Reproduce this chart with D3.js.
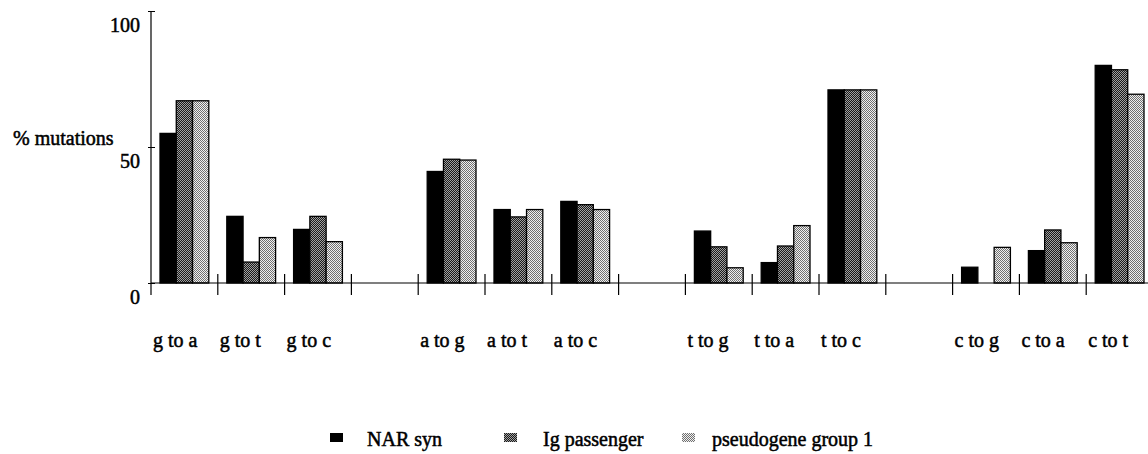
<!DOCTYPE html>
<html>
<head>
<meta charset="utf-8">
<script src="https://cdn.jsdelivr.net/npm/d3@7.9.0/dist/d3.min.js"></script>
<style>
  body { margin: 0; background: #fff; }
  #chart text {
    font-family: 'Liberation Serif', 'Times New Roman', 'DejaVu Serif', serif !important;
    font-size: 20px !important;
    fill: #000;
    stroke: #000;
    stroke-width: 0.5px;
  }
</style>
</head>
<body>
<svg id="chart" width="1148" height="454"></svg>
<script>
// categories ('' = empty gap slot between base groups)
const categories = ['g to a', 'g to t', 'g to c', '', 'a to g', 'a to t', 'a to c', '',
                    't to g', 't to a', 't to c', '', 'c to g', 'c to a', 'c to t'];
const seriesNames = ['NAR syn', 'Ig passenger', 'pseudogene group 1'];
const narSyn      = [55, 24.5, 19.7, null, 41, 27, 30, null, 19.1, 7.5, 71, null, 5.8, 11.9, 80];
const igPassenger = [67, 7.7, 24.5, null, 45.5, 24.3, 28.8, null, 13.3, 13.6, 71, null, 0, 19.5, 78.4];
const pseudogene  = [67, 16.7, 15.2, null, 45.2, 27, 27, null, 5.6, 21.1, 71, null, 13.1, 14.8, 69.4];
const yTicks = [0, 50, 100];

const series = [narSyn, igPassenger, pseudogene];
const fills = ['#000', 'url(#pat-ig)', 'url(#pat-pseudo)'];

const svg = d3.select('#chart');

// fill patterns for the two stippled series
const defs = svg.append('defs');
function checker(id, a, b) {
    let p = defs.append('pattern')
        .attr('id', id)
        .attr('width', 2).attr('height', 2)
        .attr('patternUnits', 'userSpaceOnUse');
    p.append('rect').attr('width', 2).attr('height', 2).attr('fill', a);
    p.append('rect').attr('width', 1).attr('height', 1).attr('fill', b);
    p.append('rect').attr('x', 1).attr('y', 1).attr('width', 1).attr('height', 1).attr('fill', b);
}
checker('pat-ig', '#1a1a1a', '#a0a0a0');
checker('pat-pseudo', '#f0f0f0', '#707070');

const x = d3.scaleBand()
    .domain(d3.range(categories.length))
    .range([151, 1153]);

const xSub = d3.scaleBand()
    .domain(d3.range(series.length))
    .range([9, x.bandwidth() - 9]);

const y = d3.scaleLinear().domain([0, 100]).range([283, 11]);

// bars
series.forEach((values, s) => {
    svg.append('g')
        .selectAll('rect')
        .data(values.map((v, i) => ({ v, i })).filter(d => d.v !== null && d.v > 0))
        .join('rect')
        .attr('x', d => x(d.i) + xSub(s))
        .attr('y', d => y(d.v))
        .attr('width', xSub.bandwidth())
        .attr('height', d => y(0) - y(d.v))
        .attr('fill', fills[s])
        .attr('stroke', '#000')
        .attr('stroke-width', 1.3);
});

// x axis line + boundary ticks
svg.append('line')
    .attr('x1', 151).attr('x2', 1148)
    .attr('y1', y(0)).attr('y2', y(0))
    .attr('stroke', '#000').attr('stroke-width', 1.2);

svg.append('g')
    .selectAll('line')
    .data(d3.range(1, categories.length))
    .join('line')
    .attr('x1', i => x(i)).attr('x2', i => x(i))
    .attr('y1', y(0) - 9).attr('y2', y(0) + 12)
    .attr('stroke', '#000').attr('stroke-width', 1.2);

svg.append('g')
    .selectAll('text')
    .data(categories.map((c, i) => ({ c, i })).filter(d => d.c))
    .join('text')
    .attr('x', d => x(d.i) + 2)
    .attr('y', 347)
    .text(d => d.c);

// y axis
const yAxis = svg.append('g')
    .attr('transform', 'translate(151,0)')
    .call(d3.axisLeft(y).tickValues(yTicks).tickSizeInner(4).tickSizeOuter(0));
yAxis.attr('font-family', null).attr('font-size', null);
yAxis.select('.domain').remove();
yAxis.selectAll('.tick line').attr('x1', -3).attr('x2', 4).attr('stroke', '#000');
yAxis.selectAll('.tick text')
    .attr('x', -11)
    .attr('dy', '1.0em');

svg.append('line')
    .attr('x1', 151).attr('x2', 151)
    .attr('y1', y(100)).attr('y2', y(0) + 12)
    .attr('stroke', '#000').attr('stroke-width', 1.2);

svg.append('text')
    .attr('x', 13).attr('y', 145)
    .text('% mutations');

// legend
const legendX = [330, 504, 682];
const legendTextX = [367, 543, 712];
const legend = svg.append('g');
seriesNames.forEach((name, s) => {
    legend.append('rect')
        .attr('x', legendX[s]).attr('y', 433)
        .attr('width', 13).attr('height', 9)
        .attr('fill', fills[s]);
    legend.append('text')
        .attr('x', legendTextX[s]).attr('y', 446)
        .text(name);
});
</script>
</body>
</html>
